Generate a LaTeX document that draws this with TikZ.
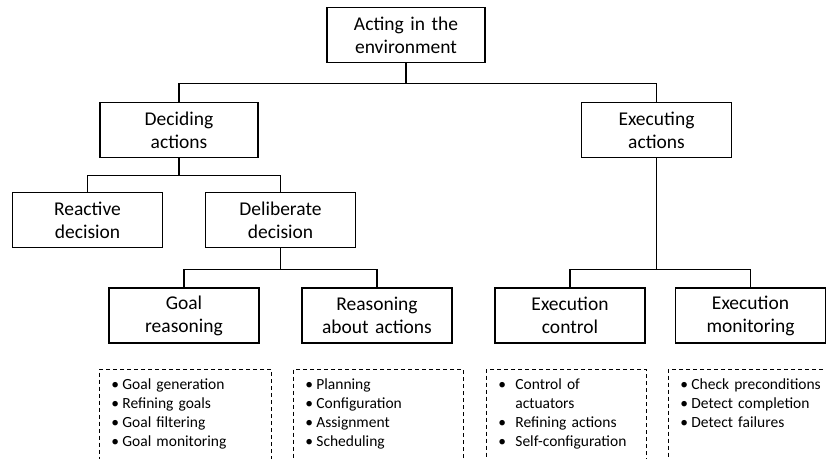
\documentclass[tikz,border=0pt]{standalone}
\usepackage{fontspec}
\setmainfont{Carlito}
\usetikzlibrary{arrows,positioning}
\newcommand{\itm}[1][11pt]{\makebox[#1][l]{\textbullet}}
\tikzset{
  %Define style for boxes
  task/.style={
    rectangle,
    draw=black, line width=1.5pt,
    inner sep=4pt,
    text width=142pt,
    minimum width=150pt,
    minimum height=55pt,
    align=center,
    font=\fontsize{19.5}{23}\selectfont},
  %Define style for dashed lists
  tasklist/.style={
    rectangle,
    draw=black, line width=0.8pt,
    dash pattern=on 4pt off 3pt,
    anchor=north west,
    inner xsep=12pt, inner ysep=9pt,
    text depth=100pt,
    align=left,
    font=\fontsize{15.5}{19}\selectfont},
  % Define line style
  branch/.style={
    draw,
    line width=1.5pt}
}

\begin{document}
\begin{tikzpicture}[x=1pt,y=-1pt]
  \clip (0,0) rectangle (826,458);
  \node[task, minimum width=158pt] (act) at (406,35) {Acting in the\\environment};
  \node[task, minimum width=158pt] (decide) at (179,130) {Deciding\\actions};
  \node[task] (execute) at (656.5,130) {Executing\\actions};
  \node[task] (reactive) at (87.5,220) {Reactive\\decision};
  \node[task] (deliberate) at (280.5,220) {Deliberate\\decision};
  \node[task] (goal) at (184,315.5) {Goal\\reasoning};
  \node[task] (reason) at (377,315.5) {Reasoning\\about actions};
  \node[task] (control) at (570,315.5) {Execution\\control};
  \node[task] (monitor) at (750.5,315.5) {Execution\\monitoring};

  \path[branch] (act.south) -- ++(0,20) -| (decide.north)
    (act.south) -- ++(0,20) -| (execute.north);
  \path[branch] (decide.south) -- ++(0,17) -| (reactive.north)
    (decide.south) -- ++(0,17) -| (deliberate.north);
  \path[branch] (deliberate.south) -- ++(0,21) -| (goal.north)
    (deliberate.south) -- ++(0,21) -| (reason.north);
  \path[branch] (execute.south) -- ++(0,111) -| (control.north)
    (execute.south) -- ++(0,111) -| (monitor.north);

  \node[tasklist, text width=148pt] (goallist) at (99,369)
    {\itm Goal generation\\\itm Refining goals\\\itm Goal filtering\\\itm Goal monitoring};
  \node[tasklist, text width=146pt] (reasonlist) at (293,369)
    {\itm Planning\\\itm Configuration\\\itm Assignment\\\itm Scheduling};
  \node[tasklist, text width=136pt] (controllist) at (486,369)
    {\itm[17pt]Control of\\\hspace*{17pt}actuators\\\itm[17pt]Refining actions\\\itm[17pt]Self-configuration};
  \node[tasklist, text width=150pt] (monitorlist) at (668,369)
    {\itm Check preconditions\\\itm Detect completion\\\itm Detect failures};
\end{tikzpicture}
\end{document}
